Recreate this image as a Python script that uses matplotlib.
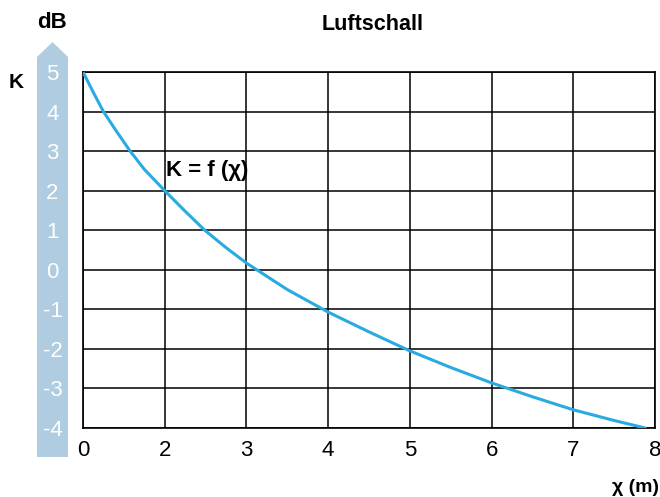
import matplotlib
matplotlib.use("Agg")
import matplotlib.pyplot as plt
from matplotlib.patches import Polygon
from matplotlib import font_manager

# ---- data ----
x_tick_labels = ["0", "2", "3", "4", "5", "6", "7", "8"]
x_positions = [0.0, 0.125, 0.25, 0.4, 0.577, 0.75, 1.0, 1.25, 1.49, 1.75, 2.0, 2.5,
               3.0, 3.5, 4.0, 4.5, 5.0, 5.5, 6.0, 6.5, 6.88]
k_values = [5.0, 4.49, 4.0, 3.53, 3.0, 2.54, 2.0, 1.48, 1.0, 0.56, 0.17, -0.5,
            -1.07, -1.57, -2.05, -2.47, -2.86, -3.21, -3.54, -3.81, -4.0]
y_ticks = [5, 4, 3, 2, 1, 0, -1, -2, -3, -4]

names = {f.name for f in font_manager.fontManager.ttflist}
fam = ["Liberation Sans Narrow", "Liberation Sans", "DejaVu Sans"]
fam = [f for f in fam if f in names] + ["DejaVu Sans"]
plt.rcParams["font.family"] = fam

W, H = 660, 497
fig = plt.figure(figsize=(W / 100, H / 100), dpi=100)
ax = fig.add_axes([83 / W, 1 - 428 / H, (655 - 83) / W, (428 - 72) / H])

curve_color = "#29abe2"
ax.plot(x_positions, k_values, color=curve_color, lw=2.2, solid_capstyle="round",
        solid_joinstyle="round", zorder=3)

ax.set_xlim(0, 7)
ax.set_ylim(-4, 5)
ax.set_xticks(range(len(x_tick_labels)))
ax.set_xticklabels(x_tick_labels)
ax.set_yticks(y_ticks)
ax.set_yticklabels([str(v) for v in y_ticks])
ax.grid(True, color="black", lw=1.1)
for s in ax.spines.values():
    s.set_color("black")
    s.set_linewidth(1.2)
ax.tick_params(axis="x", length=0, pad=9, labelsize=16, labelcolor="black")
ax.tick_params(axis="y", length=0, pad=22, labelsize=16, labelcolor="white")
for lab in ax.get_yticklabels():
    lab.set_ha("center")

# arrow-shaped band behind y labels
def px(x, y):
    return (x / W, 1 - y / H)
arrow = Polygon([px(37, 457), px(37, 57), px(52.5, 42), px(68, 57), px(68, 457)],
                closed=True, transform=fig.transFigure, facecolor="#b0cce0",
                edgecolor="none", zorder=-5)
fig.patches.append(arrow)
ax.set_zorder(1)
ax.patch.set_alpha(1.0)

fig.text(52.5 / W, 1 - 23 / H, "dB", ha="center", va="center", fontsize=16, fontweight="bold")
fig.text(16 / W, 1 - 82 / H, "K", ha="center", va="center", fontsize=15, fontweight="bold")
fig.text(373 / W, 1 - 24 / H, "Luftschall", ha="center", va="center", fontsize=15.5, fontweight="bold")
fig.text(659 / W, 1 - 487 / H, "χ (m)", ha="right", va="center", fontsize=14, fontweight="bold")
ax.text(1.02, 2.5, "K = f (χ)", ha="left", va="center", fontsize=16, fontweight="bold", zorder=4)

fig.savefig("out.png", dpi=100)
